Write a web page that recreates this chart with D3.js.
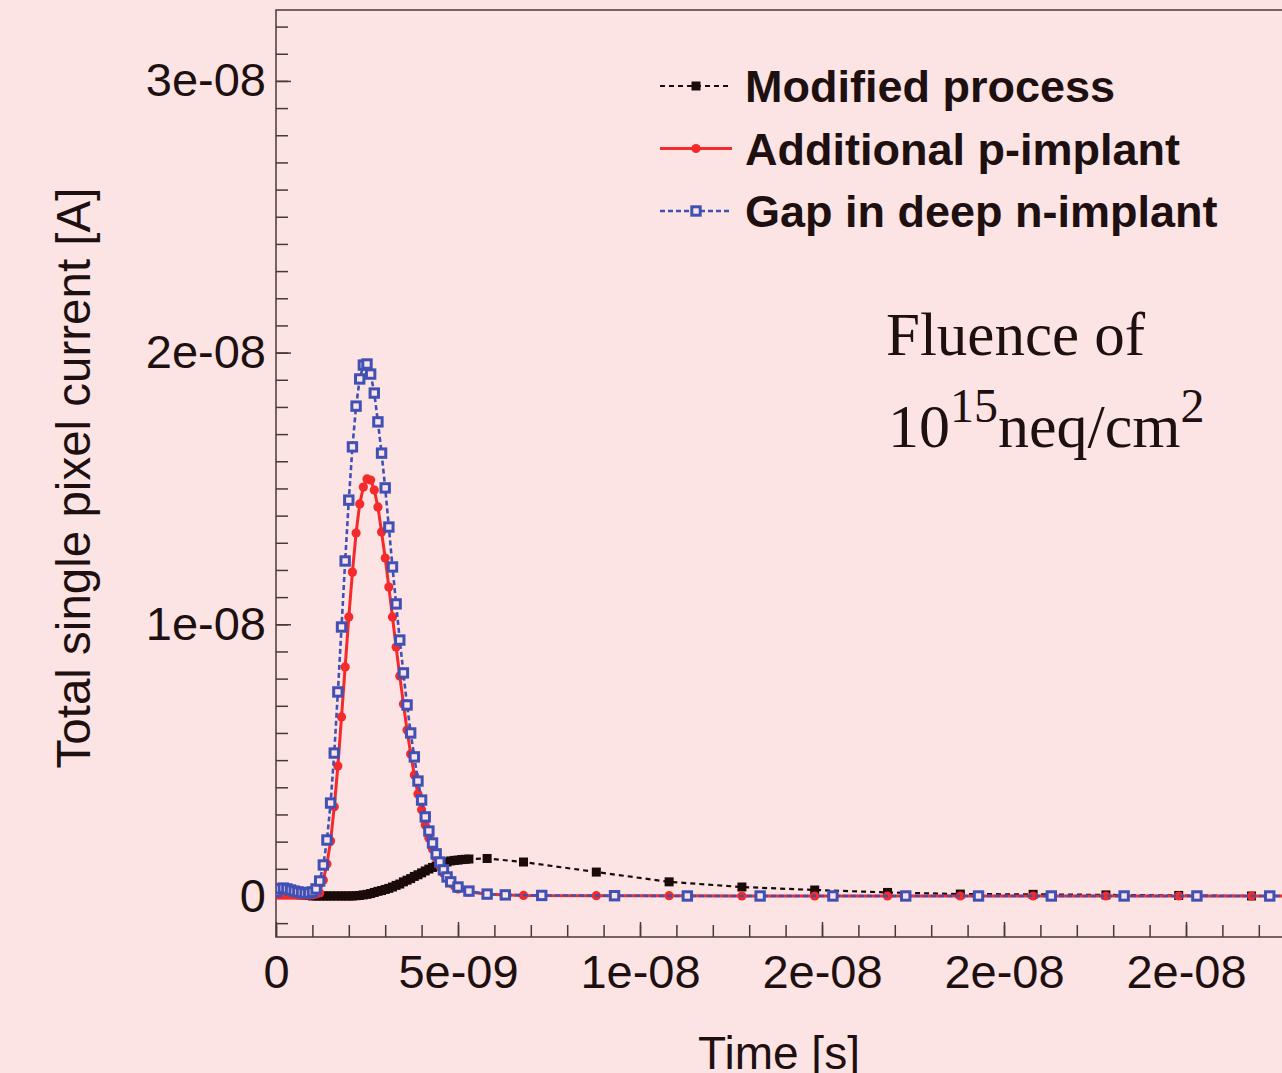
<!DOCTYPE html>
<html>
<head>
<meta charset="utf-8">
<script src="https://cdn.jsdelivr.net/npm/d3@7"></script>
<style>
  html, body { margin: 0; padding: 0; background: #fce4e4; }
  svg { display: block; }
</style>
</head>
<body>
<svg id="chart"></svg>
<script>
// time in ns, current in nA (converted to s / A below)
const blackTime = [0,0.1,0.2,0.3,0.4,0.5,0.6,0.7,0.8,0.9,1.0,1.1,1.2,1.3,1.4,1.5,1.6,1.7,1.8,1.9,2.0,2.1,2.2,
  2.3,2.4,2.5,2.6,2.7,2.8,2.9,3.0,3.1,3.2,3.3,3.4,3.5,3.6,3.7,3.8,3.9,4.0,4.1,4.2,4.3,4.4,4.5,4.6,4.7,4.8,4.9,5.0,5.1,5.2,5.3,
  5.8,6.8,8.8,10.8,12.8,14.8,16.8,18.8,20.8,22.8,24.8,26.8,28.8];
const blackCurrent = [0.08,0.08,0.08,0.08,0.08,0.06,0.05,0.04,0.03,0.02,0.0,0.0,0.0,0.0,0.0,0.0,0.0,0.0,0.0,0.0,0.0,0.0,0.01,
  0.02,0.04,0.06,0.09,0.13,0.17,0.20,0.24,0.28,0.33,0.39,0.44,0.52,0.58,0.64,0.72,0.78,0.85,0.92,0.99,1.05,1.10,1.16,1.21,1.25,1.29,1.31,1.32,1.34,1.35,1.36,
  1.38,1.25,0.88,0.52,0.33,0.22,0.13,0.07,0.06,0.04,0.02,0.0,0.0];

const redTime = [0,0.1,0.2,0.3,0.4,0.5,0.6,0.7,0.8,0.9,1.0,
  1.1,1.2,1.3,1.4,1.5,1.6,1.7,1.8,1.9,2.0,2.1,2.2,2.3,2.4,2.5,2.6,2.7,2.8,2.9,3.0,
  3.1,3.2,3.3,3.4,3.5,3.6,3.7,3.8,3.9,4.0,4.1,4.2,4.3,4.4,4.5,4.6,4.7,4.8,4.9,5.0,
  5.3,5.8,6.8,8.8,10.8,12.8,14.8,16.8,18.8,20.8,22.8,24.8,26.8,28.8];
const redCurrent = [0.03,0.03,0.03,0.03,0.03,0.03,0.03,0.03,0.03,0.03,0.04,
  0.07,0.11,0.59,1.18,2.02,3.28,4.78,6.59,8.43,10.27,11.92,13.36,14.43,15.05,15.35,15.31,14.94,14.32,13.40,12.44,
  11.37,10.27,9.16,8.10,7.07,6.11,5.23,4.45,3.75,3.17,2.61,2.13,1.73,1.40,1.10,0.85,0.66,0.48,0.37,0.26,
  0.15,0.06,0.02,0.01,0.01,0.0,0.0,0.0,0.0,0.0,0.0,0.0,0.0,0.0];

const blueTime = [0,0.1,0.2,0.3,0.4,0.5,0.6,0.7,0.8,0.9,1.0,
  1.1,1.2,1.3,1.4,1.5,1.6,1.7,1.8,1.9,2.0,2.1,2.2,2.3,2.4,2.5,2.6,2.7,2.8,2.9,3.0,
  3.1,3.2,3.3,3.4,3.5,3.6,3.7,3.8,3.9,4.0,4.1,4.2,4.3,4.4,4.5,4.6,4.7,4.8,
  5.0,5.3,5.8,6.3,7.3,9.3,11.3,13.3,15.3,17.3,19.3,21.3,23.3,25.3,27.3,29.3];
const blueCurrent = [0.15,0.26,0.29,0.26,0.22,0.18,0.15,0.13,0.11,0.11,0.15,
  0.26,0.55,1.14,2.06,3.42,5.26,7.51,9.90,12.33,14.57,16.53,18.03,19.03,19.54,19.58,19.21,18.51,17.45,16.30,15.02,
  13.58,12.11,10.75,9.42,8.21,7.03,6.00,5.12,4.23,3.53,2.91,2.39,1.95,1.55,1.25,0.96,0.70,0.52,
  0.33,0.18,0.07,0.04,0.02,0.01,0.0,0.0,0.0,0.0,0.0,0.0,0.0,0.0,0.0,0.0];

const seriesNames = ["Modified process", "Additional p-implant", "Gap in deep n-implant"];

const xTickValues = [0, 5e-9, 1e-8, 1.5e-8, 2e-8, 2.5e-8];
const xTickLabels = ["0", "5e-09", "1e-08", "2e-08", "2e-08", "2e-08"];
const yTickValues = [0, 1e-8, 2e-8, 3e-8];
const yTickLabels = ["0", "1e-08", "2e-08", "3e-08"];

const width = 1282;
const height = 1073;
const plotLeft = 276, plotTop = 10, plotBottom = 937, plotRight = 1368;
const ink = "#1e1010";
const frameColor = "#4a3838";
const bg = "#fce4e4";

const svg = d3.select("#chart")
    .attr("width", width)
    .attr("height", height);

svg.append("rect").attr("width", width).attr("height", height).attr("fill", bg);

const x = d3.scaleLinear().domain([0, 30e-9]).range([plotLeft, plotRight]);
const y = d3.scaleLinear().domain([-1.51e-9, 32.61e-9]).range([plotBottom, plotTop]);

function toPoints(ts, vs) {
    return ts.map((t, i) => ({ t: t * 1e-9, v: vs[i] * 1e-9 }));
}

const series = [
    { name: seriesNames[0], data: toPoints(blackTime, blackCurrent), color: "#1a0a0a", dash: "5,4", width: 2.2, marker: "fsquare" },
    { name: seriesNames[1], data: toPoints(redTime, redCurrent), color: "#f52a2a", dash: null, width: 3, marker: "circle" },
    { name: seriesNames[2], data: toPoints(blueTime, blueCurrent), color: "#4050b4", dash: "5,3", width: 2.6, marker: "osquare" }
];

// minor ticks
const minorX = d3.range(0, 31).map(d => d * 1e-9);
const minorY = d3.range(-1, 33).map(d => d * 1e-9);

const xMinor = d3.axisBottom(x).tickValues(minorX).tickSize(-12).tickFormat("");
const xMajor = d3.axisBottom(x).tickValues(xTickValues).tickSize(-15).tickPadding(18)
    .tickFormat((d, i) => xTickLabels[i]);
const yMinor = d3.axisLeft(y).tickValues(minorY).tickSize(-12).tickFormat("");
const yMajor = d3.axisLeft(y).tickValues(yTickValues).tickSize(-15).tickPadding(10)
    .tickFormat((d, i) => yTickLabels[i]);

function styleAxis(g) {
    g.select(".domain").remove();
    g.selectAll(".tick line").attr("stroke", frameColor).attr("stroke-width", 1.5);
    g.selectAll(".tick text")
        .attr("fill", ink)
        .style("font-family", "'Liberation Sans', Arial, sans-serif")
        .style("font-size", "47px");
}

svg.append("g").attr("transform", `translate(0,${plotBottom})`).call(xMinor).call(styleAxis);
svg.append("g").attr("transform", `translate(0,${plotBottom})`).call(xMajor).call(styleAxis);
svg.append("g").attr("transform", `translate(${plotLeft},0)`).call(yMinor).call(styleAxis);
svg.append("g").attr("transform", `translate(${plotLeft},0)`).call(yMajor).call(styleAxis);

// frame
svg.append("path")
    .attr("d", `M${width + 5},${plotTop}H${plotLeft}V${plotBottom}H${width + 5}`)
    .attr("fill", "none")
    .attr("stroke", frameColor)
    .attr("stroke-width", 1.5);

svg.append("clipPath").attr("id", "plot-clip")
    .append("rect").attr("x", plotLeft).attr("y", plotTop)
    .attr("width", plotRight - plotLeft).attr("height", plotBottom - plotTop);

const plot = svg.append("g").attr("clip-path", "url(#plot-clip)");

const line = d3.line().x(d => x(d.t)).y(d => y(d.v));

function drawMarker(g, kind, color) {
    if (kind === "circle") {
        g.append("circle").attr("r", 4.6).attr("fill", color);
    } else if (kind === "fsquare") {
        g.append("rect").attr("x", -4.5).attr("y", -4.5).attr("width", 9).attr("height", 9).attr("fill", color);
    } else {
        g.append("rect").attr("x", -4.2).attr("y", -4.2).attr("width", 8.4).attr("height", 8.4)
            .attr("fill", bg).attr("stroke", color).attr("stroke-width", 3);
    }
}

series.forEach(s => {
    plot.append("path")
        .datum(s.data)
        .attr("d", line)
        .attr("fill", "none")
        .attr("stroke", s.color)
        .attr("stroke-width", s.width)
        .attr("stroke-dasharray", s.dash);
    plot.append("g").selectAll("g")
        .data(s.data)
        .enter()
        .append("g")
        .attr("transform", d => `translate(${x(d.t)},${y(d.v)})`)
        .each(function() { drawMarker(d3.select(this), s.marker, s.color); });
});

// axis titles
svg.append("text")
    .attr("transform", "translate(90,478) rotate(-90)")
    .attr("text-anchor", "middle")
    .attr("fill", ink)
    .style("font-family", "'Liberation Sans', Arial, sans-serif")
    .style("font-size", "47.5px")
    .text("Total single pixel current [A]");

svg.append("text")
    .attr("x", 779)
    .attr("y", 1069)
    .attr("text-anchor", "middle")
    .attr("fill", ink)
    .style("font-family", "'Liberation Sans', Arial, sans-serif")
    .style("font-size", "46px")
    .text("Time [s]");

// legend
const legend = svg.append("g");
series.forEach((s, i) => {
    const ly = 86 + i * 62.5;
    const row = legend.append("g").attr("transform", `translate(660,${ly})`);
    row.append("line")
        .attr("x1", 0).attr("x2", 72)
        .attr("stroke", s.color)
        .attr("stroke-width", s.width)
        .attr("stroke-dasharray", s.dash);
    drawMarker(row.append("g").attr("transform", "translate(36,0)"), s.marker, s.color);
    row.append("text")
        .attr("x", 85)
        .attr("dy", "0.36em")
        .attr("fill", ink)
        .style("font-family", "'Liberation Sans', Arial, sans-serif")
        .style("font-size", "45px")
        .style("font-weight", "bold")
        .text(s.name);
});

// fluence annotation
const serif = "'Liberation Serif', 'Times New Roman', serif";
svg.append("text")
    .attr("x", 886).attr("y", 355)
    .attr("fill", ink)
    .style("font-family", serif)
    .style("font-size", "61px")
    .text("Fluence of");

const fl = svg.append("text")
    .attr("x", 888).attr("y", 447)
    .attr("fill", ink)
    .style("font-family", serif)
    .style("font-size", "62px");
fl.append("tspan").text("10");
fl.append("tspan").attr("dy", -25).style("font-size", "48px").text("15");
fl.append("tspan").attr("dy", 25).text("neq/cm");
fl.append("tspan").attr("dy", -25).style("font-size", "48px").text("2");
</script>
</body>
</html>
